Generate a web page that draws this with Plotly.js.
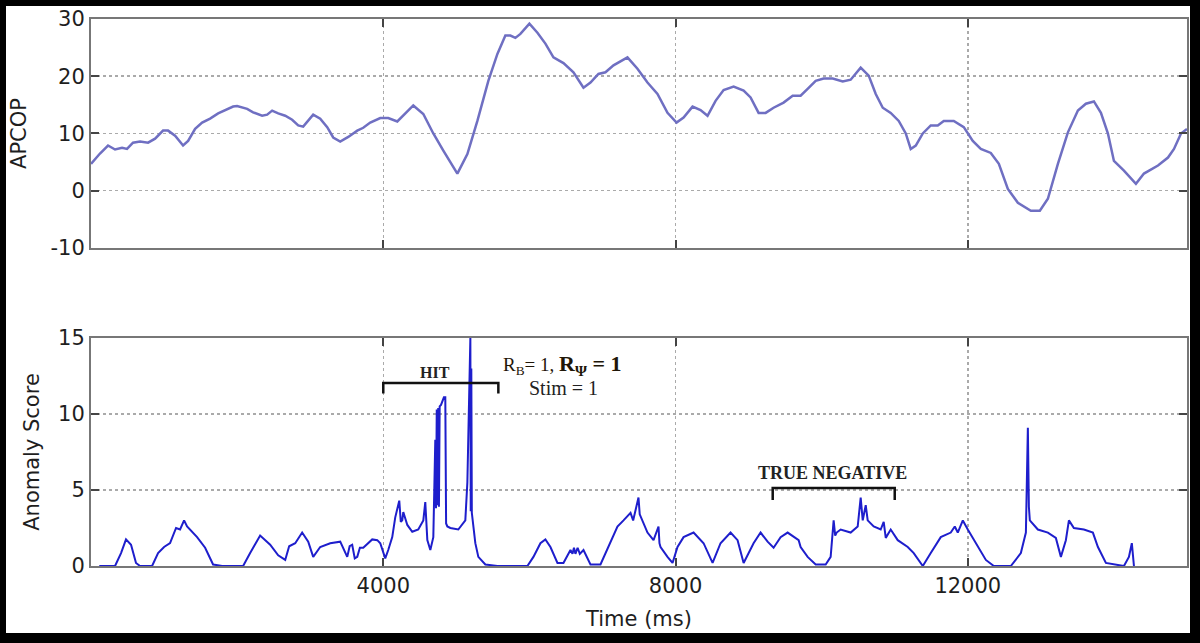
<!DOCTYPE html>
<html>
<head>
<meta charset="utf-8">
<script src="https://cdn.plot.ly/plotly-3.0.1.min.js"></script>
<style>
  body { margin: 0; background: #000; }
  #chart { position: absolute; left: 6px; top: 6px; width: 1184px; height: 627px; background: #fff; }
</style>
</head>
<body>
<div id="chart"></div>
<script>
// APCOP trace (top panel)
const apcopTime = [0, 123, 233, 329, 425, 493, 575, 671, 781, 877, 986, 1055, 1151, 1260, 1329, 1425, 1521, 1630,
  1740, 1836, 1945, 2000, 2137, 2219, 2342, 2411, 2479, 2562, 2658, 2753, 2836, 2904, 2973, 3041, 3137, 3233, 3315,
  3411, 3521, 3644, 3726, 3822, 3959, 4068, 4192, 4233, 4411, 4548, 4685, 4822, 5014, 5151, 5288, 5438, 5562, 5671,
  5740, 5808, 5877, 6000, 6110, 6219, 6329, 6466, 6603, 6740, 6836, 6945, 7041, 7151, 7342, 7479, 7616, 7753, 7890,
  8014, 8110, 8233, 8342, 8438, 8548, 8658, 8795, 8932, 9027, 9137, 9233, 9342, 9479, 9603, 9712, 9808, 9918, 10027,
  10151, 10288, 10397, 10534, 10644, 10740, 10836, 10945, 11055, 11151, 11219, 11288, 11384, 11493, 11589, 11671,
  11808, 11945, 12068, 12178, 12315, 12425, 12548, 12685, 12863, 12986, 13096, 13233, 13370, 13507, 13616, 13726,
  13822, 13918, 14000, 14137, 14301, 14411, 14603, 14740, 14822, 14918, 15000];
const apcopValue = [4.7, 6.5, 7.9, 7.2, 7.5, 7.3, 8.4, 8.6, 8.4, 9.1, 10.5, 10.5, 9.6, 7.9, 8.7, 10.8, 11.9, 12.6,
  13.5, 14.0, 14.7, 14.8, 14.3, 13.7, 13.1, 13.3, 14.0, 13.5, 13.1, 12.4, 11.4, 11.2, 12.2, 13.3, 12.6, 11.1, 9.3,
  8.6, 9.4, 10.5, 11.0, 11.9, 12.7, 12.7, 12.1, 12.6, 14.9, 13.4, 10.0, 7.0, 3.0, 6.4, 12.2, 19.2, 23.9, 27.1,
  27.1, 26.7, 27.4, 29.2, 27.6, 25.7, 23.3, 22.3, 20.7, 18.0, 18.9, 20.4, 20.7, 21.9, 23.3, 21.3, 18.9, 16.9, 13.6,
  11.9, 12.8, 14.7, 14.1, 13.1, 15.7, 17.6, 18.2, 17.5, 16.3, 13.6, 13.6, 14.5, 15.4, 16.6, 16.6, 17.8, 19.2, 19.6,
  19.6, 19.1, 19.4, 21.5, 20.1, 16.9, 14.5, 13.6, 12.2, 10.0, 7.3, 7.9, 10.0, 11.4, 11.4, 12.2,
  12.2, 11.1, 8.7, 7.3, 6.6, 4.7, 0.3, -2.1, -3.5, -3.5, -1.4, 4.7, 10.2, 14.0, 15.2, 15.6,
  13.6, 10.0, 5.2, 3.5, 1.2, 3.0, 4.4, 5.8, 7.3, 10.0, 10.8];

// Anomaly score trace (bottom panel)
const scoreTime = [113, 329, 411, 479, 548, 616, 671, 836, 918, 1000, 1082, 1164, 1219, 1274, 1315, 1452, 1562, 1671,
  1795, 2082, 2178, 2315, 2452, 2562, 2658, 2712, 2795, 2890, 2973, 3041, 3137, 3274, 3411, 3507, 3540, 3575, 3610,
  3644, 3680, 3726, 3849, 3918, 3959, 4027, 4068, 4123, 4164, 4219, 4240, 4260, 4274, 4329, 4397, 4479, 4548, 4575,
  4603, 4644, 4685, 4712, 4722, 4732, 4742, 4752, 4762, 4772, 4790, 4808, 4830, 4849, 4860, 4877, 4918, 5027, 5123,
  5151, 5192, 5197, 5205, 5212, 5219, 5240, 5260, 5301, 5397, 5562, 5973, 6055, 6151, 6219, 6288, 6384, 6466, 6562,
  6590, 6610, 6630, 6660, 6690, 6740, 6836, 6973, 7082, 7205, 7288, 7384, 7420, 7452, 7493, 7510, 7548, 7616, 7699,
  7767, 7780, 7795, 7890, 7959, 8027, 8110, 8247, 8384, 8507, 8616, 8753, 8849, 8932, 9068, 9164, 9260, 9342, 9438,
  9534, 9685, 9712, 9808, 9918, 10055, 10123, 10164, 10185, 10205, 10260, 10397, 10493, 10534, 10562, 10603, 10630,
  10712, 10808, 10849, 10877, 10945, 11041, 11178, 11260, 11384, 11493, 11630, 11767, 11822, 11863, 11932, 12000,
  12137, 12247, 12356, 12589, 12726, 12795, 12822, 12836, 12849, 12959, 13096, 13205, 13274, 13342, 13384, 13452,
  13589, 13712, 13781, 13890, 14137, 14205, 14245, 14260, 14274];
const scoreValue = [0, 0, 0.85, 1.75, 1.4, 0.2, 0, 0, 0.85, 1.25, 1.5, 2.5, 2.4, 3.0, 2.6, 1.9, 1.2, 0.1,
  0, 0, 0.85, 2.0, 1.4, 0.7, 0.4, 1.3, 1.5, 2.2, 1.6, 0.6, 1.25, 1.5, 1.6, 0.6, 1.3, 1.4, 0.5,
  0.6, 1.2, 1.2, 1.75, 1.7, 1.5, 0.5, 1.05, 1.9, 3.2, 4.3, 2.9, 3.0, 3.55, 2.7, 2.25, 2.4, 3.0, 4.2,
  1.7, 1.05, 1.9, 8.3, 3.8, 10.3, 4.0, 10.4, 3.9, 10.5, 10.6, 10.9, 11.1, 11.1, 2.8, 2.6, 2.5, 2.4, 3.0,
  5.5, 15, 3.6, 13.0, 3.5, 3.2, 2.0, 1.5, 0.6, 0.1, 0, 0, 0.6, 1.5, 1.75, 1.25, 0.2, 0.2, 1.05,
  0.8, 1.2, 0.8, 1.2, 0.8, 1.05, 0.1, 0.1, 1.25, 2.6, 3.0, 3.5, 3.0, 3.7, 4.5, 3.4, 3.0, 2.2, 1.7,
  2.6, 1.5, 1.25, 0.6, 0.2, 1.25, 1.9, 2.2, 1.5, 0.2, 1.5, 2.2, 1.7, 0.2, 1.5, 2.2, 1.6, 1.2, 1.9,
  2.2, 1.7, 1.25, 0.6, 0.1, 0.1, 0.6, 3.0, 2.0, 2.2, 2.4, 2.2, 2.6, 4.5, 3.0, 4.0, 3.0,
  2.6, 2.4, 2.9, 1.85, 2.4, 1.7, 1.25, 0.85, 0, 0.85, 1.9, 2.2, 2.6, 2.2, 3.0, 2.4,
  1.25, 0.4, 0, 0, 0.85, 2.2, 9.1, 3.9, 3.0, 2.4, 2.2, 1.85, 0.6, 1.7, 3.0, 2.5,
  2.4, 2.2, 1.25, 0.2, 0, 0.6, 1.5, 0.8, 0];

const xTicks = [4000, 8000, 12000];
const xTickText = ['4000', '8000', '12000'];
const apcopTicks = [-10, 0, 10, 20, 30];
const apcopTickText = ['-10', '0', '10', '20', '30'];
const scoreTicks = [0, 5, 10, 15];

const tickFont = { family: 'DejaVu Sans, Arial, sans-serif', size: 21, color: '#1e1e1e' };
const serif = 'Liberation Serif, Times New Roman, serif';

function axisStyle(extra) {
  return Object.assign({
    showline: true, linecolor: '#777', linewidth: 2, mirror: 'ticks',
    ticks: 'inside', ticklen: 8, tickwidth: 2, tickcolor: '#444',
    showgrid: true, gridcolor: '#aaa', griddash: 'dot', gridwidth: 1.5,
    zeroline: false, tickfont: tickFont, fixedrange: true
  }, extra);
}

const data = [
  { x: apcopTime, y: apcopValue, xaxis: 'x', yaxis: 'y', mode: 'lines',
    line: { color: '#6f6fc2', width: 2.5 }, hoverinfo: 'skip' },
  { x: scoreTime, y: scoreValue, xaxis: 'x2', yaxis: 'y2', mode: 'lines',
    line: { color: '#1e1ecc', width: 2 }, hoverinfo: 'skip' }
];

const layout = {
  width: 1184, height: 627,
  margin: { l: 85, r: 3, t: 13, b: 67 },
  paper_bgcolor: '#fff', plot_bgcolor: '#fff',
  showlegend: false,
  xaxis: axisStyle({ domain: [0, 1], range: [0, 15000], anchor: 'y', tickvals: xTicks, showticklabels: false }),
  yaxis: axisStyle({ domain: [0.5814, 1], range: [-10, 30], tickvals: apcopTicks, ticktext: apcopTickText, anchor: 'x',
    title: { text: 'APCOP', font: tickFont, standoff: 18 } }),
  xaxis2: axisStyle({ domain: [0, 1], range: [0, 15000], anchor: 'y2', tickvals: xTicks, ticktext: xTickText,
    title: { text: 'Time (ms)', font: tickFont, standoff: 14 } }),
  yaxis2: axisStyle({ domain: [0, 0.4168], range: [0, 15], tickvals: scoreTicks, anchor: 'x2',
    title: { text: 'Anomaly Score', font: tickFont, standoff: 13 } }),
  shapes: [
    { type: 'path', xref: 'x2', yref: 'y2', path: 'M4000,11.35 L4000,12.04 L5575,12.04 L5575,11.35',
      line: { color: '#111', width: 2.5 } },
    { type: 'path', xref: 'x2', yref: 'y2', path: 'M9330,4.34 L9330,5.13 L11000,5.13 L11000,4.34',
      line: { color: '#111', width: 2.5 } }
  ],
  annotations: [
    { xref: 'x2', yref: 'y2', x: 4712, y: 12.76, text: '<b>HIT</b>', showarrow: false,
      font: { family: serif, size: 16, color: '#222' } },
    { xref: 'x2', yref: 'y2', x: 6452, y: 13.2,
      text: 'R<sub>B</sub>= 1, <b><span style="font-size:22px">R<sub>Ψ</sub> = 1</span></b>', showarrow: false,
      font: { family: serif, size: 19, color: '#1f1608' } },
    { xref: 'x2', yref: 'y2', x: 6466, y: 11.7, text: 'Stim = 1', showarrow: false,
      font: { family: serif, size: 20, color: '#222' } },
    { xref: 'x2', yref: 'y2', x: 10151, y: 6.1, text: '<b>TRUE NEGATIVE</b>', showarrow: false,
      font: { family: serif, size: 18, color: '#222' } }
  ]
};

Plotly.newPlot('chart', data, layout, { displayModeBar: false, staticPlot: true });
</script>
</body>
</html>
